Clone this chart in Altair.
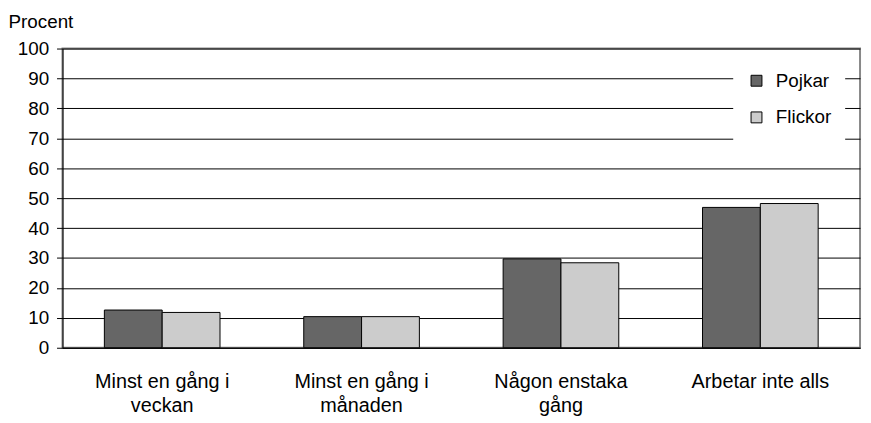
import altair as alt
import pandas as pd

categories = ["Minst en gång i veckan", "Minst en gång i månaden", "Någon enstaka gång", "Arbetar inte alls"]
label_lines = [["Minst en gång i", "veckan"], ["Minst en gång i", "månaden"], ["Någon enstaka", "gång"], ["Arbetar inte alls"]]
series = ["Pojkar", "Flickor"]
pojkar = [12.6, 10.4, 29.7, 46.9]
flickor = [11.8, 10.4, 28.4, 48.2]
colors = ["#666666", "#CCCCCC"]

rows = []
for c, p, f in zip(categories, pojkar, flickor):
    rows.append({"kat": c, "kon": "Pojkar", "v": p})
    rows.append({"kat": c, "kon": "Flickor", "v": f})
df = pd.DataFrame(rows)

expr = ""
for c, lines in zip(categories, label_lines):
    arr = "[" + ",".join("'" + l + "'" for l in lines) + "]"
    expr += f"datum.value == '{c}' ? {arr} : "
expr += "datum.value"

font = "Liberation Sans"

chart = alt.Chart(df).mark_bar(stroke="black", strokeWidth=1).encode(
    x=alt.X("kat:N", sort=categories,
            scale=alt.Scale(paddingInner=0.42, paddingOuter=0.21),
            axis=alt.Axis(title=None, labelAngle=0, labelExpr=expr, labelFontSize=20,
                          labelFont=font, labelColor="black", labelPadding=24,
                          labelLineHeight=24, ticks=False, domainColor="black",
                          labelBaseline="top", labelLimit=300)),
    xOffset=alt.XOffset("kon:N", sort=series),
    y=alt.Y("v:Q", scale=alt.Scale(domain=[0, 100]),
            axis=alt.Axis(values=list(range(0, 101, 10)), title="Procent", titleAngle=0,
                          titleX=-55, titleY=-21, titleAlign="left", titleBaseline="alphabetic",
                          titleFont=font, titleFontSize=19, titleFontWeight="normal", titleColor="black",
                          labelFont=font, labelFontSize=19, labelColor="black", labelPadding=8,
                          tickColor="black", tickSize=6, domainColor="black",
                          gridColor="black", gridWidth=1, gridOpacity=1)),
    color=alt.Color("kon:N", sort=series,
                    scale=alt.Scale(domain=series, range=colors),
                    legend=alt.Legend(title=None, orient="none", legendX=677, legendY=9,
                                      fillColor="white", padding=14, symbolType="square",
                                      symbolSize=121, symbolStrokeColor="black", symbolStrokeWidth=1,
                                      labelFont=font, labelFontSize=19, labelColor="black",
                                      rowPadding=17, labelOffset=10)),
).properties(
    width=805, height=302,
    autosize=alt.AutoSizeParams(type="none"),
    padding={"left": 55, "top": 39, "right": 3, "bottom": 70},
).configure_view(stroke="#888888", strokeWidth=2)

chart.save("out.html", embed_options={"renderer": "svg", "actions": False})
